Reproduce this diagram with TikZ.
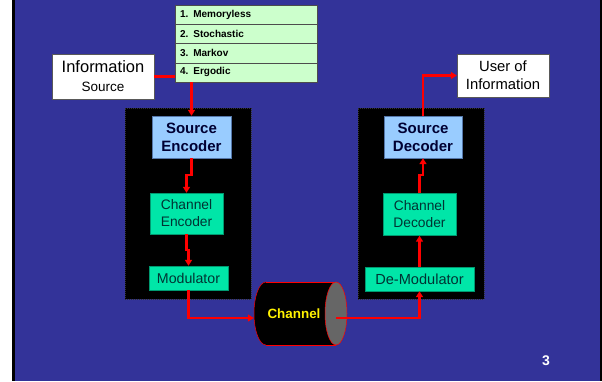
\documentclass[tikz,border=0pt]{standalone}
\usepackage{fontspec}
\setmainfont{Liberation Sans}
\usetikzlibrary{arrows.meta,calc}
\definecolor{bgblue}{HTML}{333399}
\definecolor{lblue}{HTML}{99CCFF}
\definecolor{tealbox}{HTML}{00E6A8}
\definecolor{tealedge}{HTML}{009970}
\definecolor{lgreen}{HTML}{CCFFCC}
\definecolor{navytext}{HTML}{000033}
\definecolor{darkteal}{HTML}{003333}
\definecolor{blueedge}{HTML}{5577AA}
\begin{document}
\begin{tikzpicture}[x=1pt,y=-1pt,
  listbox/.style={draw=gray!60!black, fill=lgreen, minimum width=142pt, minimum height=19.25pt,
    inner xsep=5pt, inner ysep=0pt, text width=132pt, align=left,
    font=\fontsize{10}{12}\selectfont\bfseries, text=black},
  whitebox/.style={draw=gray!70!black, fill=white, inner sep=0pt, align=center, text=black},
  srcbox/.style={draw=blueedge, fill=lblue, inner sep=0pt, align=center, text=navytext,
    font=\fontsize{15}{18}\selectfont\bfseries},
  chbox/.style={draw=tealedge, fill=tealbox, inner sep=0pt, align=center, text=darkteal,
    font=\fontsize{13.8}{17}\selectfont},
  panel/.style={fill=black, draw=gray!40!black, dash pattern=on 1pt off 1pt, line width=0.4pt, inner sep=0pt},
  arr/.style={draw=red, line width=2.3pt, -{Triangle[length=6pt,width=7pt]}},
  redline/.style={draw=red, line width=2.3pt}
]
\useasboundingbox (0,0) rectangle (602,381);
% frame
\fill[white] (0,0) rectangle (602,381);
\fill[black] (12,0) rectangle (602,381);
\fill[bgblue] (15,0) rectangle (600,381);

% panels
\node[panel, minimum width=126pt, minimum height=191pt] (panelL) at (188,203.5) {};
\node[panel, minimum width=126pt, minimum height=191pt] (panelR) at (421,203.5) {};

% list
\node[listbox] (l1) at (246,14.6) {1. Memoryless};
\node[listbox] (l2) at (246,33.9) {2. Stochastic};
\node[listbox] (l3) at (246,53.1) {3. Markov};
\node[listbox] (l4) at (246,72.4) {4. Ergodic};

% info source
\node[whitebox, minimum width=102pt, minimum height=45pt, font=\fontsize{16.5}{19}\selectfont] (info) at (103,76.5)
  {Information\\{\fontsize{13.5}{19}\selectfont Source}};

% left chain
\node[srcbox, minimum width=79pt, minimum height=42pt] (senc) at (191.5,137) {Source\\Encoder};
\node[chbox, minimum width=73pt, minimum height=41pt] (cenc) at (186.5,213.5) {Channel\\Encoder};
\node[chbox, minimum width=79pt, minimum height=24pt, font=\fontsize{14.2}{17}\selectfont] (mod) at (188.5,278) {Modulator};

% right chain
\node[chbox, minimum width=109pt, minimum height=24pt, font=\fontsize{14.6}{17}\selectfont] (demod) at (419.5,279) {De-Modulator};
\node[chbox, minimum width=73pt, minimum height=42pt] (cdec) at (419.5,214.5) {Channel\\Decoder};
\node[srcbox, minimum width=78pt, minimum height=42pt] (sdec) at (423,137) {Source\\Decoder};
\node[whitebox, minimum width=92pt, minimum height=43pt, font=\fontsize{14.8}{18}\selectfont] (user) at (503,75.5) {User of\\Information};

% channel cylinder
\node[minimum width=93pt, minimum height=63pt, inner sep=0pt] (chan) at (300.5,313.5) {};
\draw[red, line width=0.5pt, fill=black] (266,313.5) ellipse [x radius=12pt, y radius=31.5pt];
\fill[black] (266,282) rectangle (336,345);
\draw[red, line width=0.5pt] (266,282) -- (336,282) (266,345) -- (336,345);
\draw[red, line width=0.5pt, fill=gray!80!black] (336,313.5) ellipse [x radius=11pt, y radius=31.5pt];
\node[text=yellow, font=\fontsize{13.4}{16}\selectfont\bfseries, inner sep=0pt] (chantext) at (294,314) {Channel};

% connectors
\draw[redline] (info.east) -- (info.east -| l4.west);
\draw[arr] (senc.north |- l4.south) -- (senc.north);
\draw[arr] (senc.south) -- ++(0,17) -| (cenc.north);
\draw[arr] (cenc.south) -- ++(0,16) -| (mod.north);
\draw[arr] (mod.south) |- ([yshift=-4.5pt]chan.west);
\draw[arr] ([shift={(-11pt,-4.5pt)}]chan.east) -| (demod.south);
\draw[arr] (demod.north) -- (cdec.south);
\draw[arr] (cdec.north) -- ++(0,-18) -| (sdec.south);
\draw[arr] (sdec.north) |- (user.west);

% page number
\node[text=white, font=\fontsize{14}{16}\selectfont\bfseries, inner sep=0pt] (pnum) at (546,361) {3};
\end{tikzpicture}
\end{document}
